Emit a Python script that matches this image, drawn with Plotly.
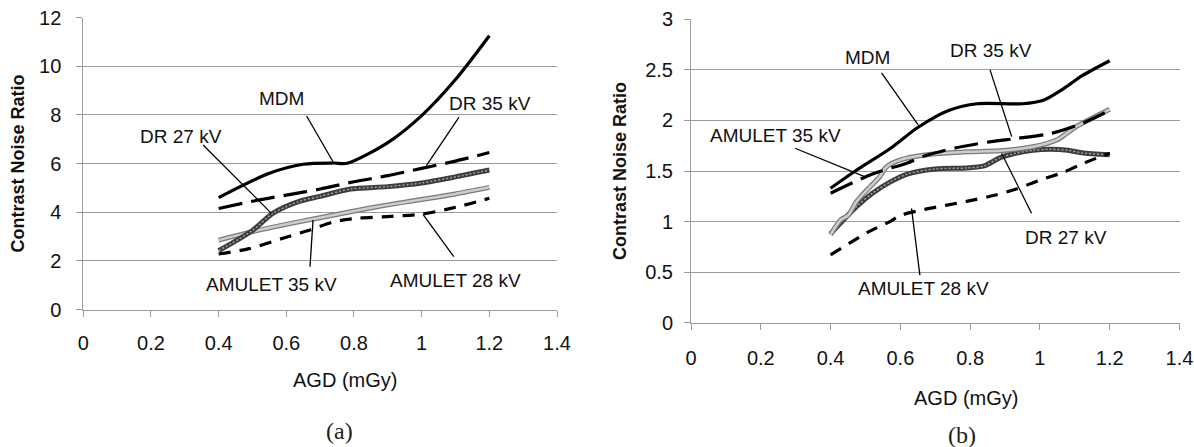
import plotly.graph_objects as go

# ---------------- data: panel (a) ----------------
a_mdm_x = [0.4, 0.55, 0.65, 0.74, 0.78, 0.9, 1.0, 1.1, 1.2]
a_mdm_y = [4.6, 5.6, 5.97, 6.02, 6.01, 6.86, 7.97, 9.45, 11.25]

a_dr35_x = [0.4, 0.5, 0.6, 0.7, 0.8, 0.9, 1.0, 1.1, 1.2]
a_dr35_y = [4.15, 4.45, 4.7, 4.95, 5.25, 5.5, 5.8, 6.1, 6.45]

a_dr27_x = [0.4, 0.5, 0.56, 0.64, 0.7, 0.79, 0.9, 1.0, 1.1, 1.2]
a_dr27_y = [2.42, 3.25, 3.95, 4.45, 4.65, 4.95, 5.05, 5.2, 5.45, 5.73]

a_am35_x = [0.4, 0.5, 0.6, 0.68, 0.79, 0.9, 0.99, 1.1, 1.2]
a_am35_y = [2.85, 3.2, 3.5, 3.72, 4.02, 4.3, 4.5, 4.75, 5.02]

a_am28_x = [0.4, 0.49, 0.59, 0.67, 0.74, 0.81, 0.9, 1.0, 1.1, 1.2]
a_am28_y = [2.28, 2.5, 2.93, 3.27, 3.6, 3.75, 3.82, 3.92, 4.2, 4.57]

# ---------------- data: panel (b) ----------------
b_mdm_x = [0.4, 0.475, 0.57, 0.65, 0.74, 0.82, 0.95, 1.01, 1.07, 1.12, 1.2]
b_mdm_y = [1.33, 1.51, 1.72, 1.93, 2.1, 2.165, 2.165, 2.2, 2.32, 2.44, 2.59]

b_dr35_x = [0.4, 0.52, 0.62, 0.67, 0.76, 0.86, 0.93, 1.03, 1.12, 1.2]
b_dr35_y = [1.28, 1.47, 1.58, 1.65, 1.73, 1.79, 1.82, 1.87, 1.97, 2.1]

b_grey_x = [0.4, 0.43, 0.45, 0.475, 0.49, 0.515, 0.54, 0.56, 0.6, 0.7, 0.79, 0.885, 0.98, 1.05, 1.1, 1.2]
b_grey_y = [0.87, 1.02, 1.06, 1.2, 1.26, 1.35, 1.44, 1.54, 1.61, 1.67, 1.69, 1.70, 1.74, 1.81, 1.93, 2.11]

b_dark_x = [0.4, 0.475, 0.52, 0.57, 0.62, 0.7, 0.79, 0.84, 0.885, 0.93, 0.98, 1.03, 1.08, 1.12, 1.2]
b_dark_y = [0.88, 1.15, 1.28, 1.39, 1.47, 1.52, 1.53, 1.55, 1.63, 1.675, 1.705, 1.715, 1.705, 1.68, 1.66]

b_am28_x = [0.4, 0.51, 0.57, 0.6, 0.67, 0.73, 0.79, 0.87, 0.93, 1.0, 1.07, 1.12, 1.2]
b_am28_y = [0.67, 0.9, 1.0, 1.06, 1.12, 1.16, 1.2, 1.26, 1.32, 1.41, 1.49, 1.57, 1.675]

# ---------------- labels (text, text x, text y, leader from x,y, leader to x,y) ----------------
a_labels = [
    ("MDM", 0.586, 8.68, 0.66, 7.95, 0.738, 6.07),
    ("DR 27 kV", 0.288, 7.10, 0.354, 6.76, 0.556, 3.95),
    ("DR 35 kV", 1.201, 8.47, 1.110, 7.90, 1.014, 5.91),
    ("AMULET 35 kV", 0.556, 1.04, 0.670, 1.76, 0.679, 3.68),
    ("AMULET 28 kV", 1.100, 1.18, 1.095, 2.17, 1.004, 3.91),
]
b_labels = [
    ("MDM", 0.507, 2.62, 0.546, 2.47, 0.651, 1.955),
    ("DR 35 kV", 0.859, 2.69, 0.857, 2.50, 0.919, 1.84),
    ("AMULET 35 kV", 0.241, 1.85, 0.298, 1.725, 0.501, 1.44),
    ("DR 27 kV", 1.076, 0.843, 0.976, 1.082, 0.890, 1.676),
    ("AMULET 28 kV", 0.666, 0.34, 0.656, 0.47, 0.632, 1.13),
]

x_ticks = [0, 0.2, 0.4, 0.6, 0.8, 1, 1.2, 1.4]
a_y_ticks = [0, 2, 4, 6, 8, 10, 12]
b_y_ticks = [0, 0.5, 1, 1.5, 2, 2.5, 3]
x_title = "AGD (mGy)"
y_title = "Contrast Noise Ratio"
captions = ["(a)", "(b)"]

W, H = 1194, 447
FONT = "Liberation Sans, Arial, sans-serif"
GRID = "#9c9c9c"

fig = go.Figure()


def add_line(x, y, xa, ya, color, width, dash="solid"):
    fig.add_trace(go.Scatter(
        x=x, y=y, xaxis=xa, yaxis=ya, mode="lines", showlegend=False,
        hoverinfo="skip",
        line=dict(color=color, width=width, dash=dash, shape="spline", smoothing=0.8),
    ))


def add_textured(x, y, xa, ya, base, top, wb, wt, dash_top):
    add_line(x, y, xa, ya, base, wb)
    add_line(x, y, xa, ya, top, wt, dash_top)


# panel (a)
add_textured(a_am35_x, a_am35_y, "x", "y", "#7a7a7a", "#cdcdcd", 5, 2.5, "solid")
add_textured(a_dr27_x, a_dr27_y, "x", "y", "#3c3c3c", "#a0a0a0", 5, 1.5, "2px,2px")
add_line(a_am28_x, a_am28_y, "x", "y", "#000000", 3.2, "12px,9px")
add_line(a_dr35_x, a_dr35_y, "x", "y", "#000000", 3.2, "24px,9px")
add_line(a_mdm_x, a_mdm_y, "x", "y", "#000000", 3.2)

# panel (b)
add_textured(b_dark_x, b_dark_y, "x2", "y2", "#3c3c3c", "#a0a0a0", 5, 1.5, "2px,2px")
add_textured(b_grey_x, b_grey_y, "x2", "y2", "#7a7a7a", "#cdcdcd", 5, 2.5, "solid")
add_line(b_am28_x, b_am28_y, "x2", "y2", "#000000", 3.2, "12px,9px")
add_line(b_dr35_x, b_dr35_y, "x2", "y2", "#000000", 3.2, "24px,9px")
add_line(b_mdm_x, b_mdm_y, "x2", "y2", "#000000", 3.2)

shapes = []
annotations = []
for labels, xr, yr in ((a_labels, "x", "y"), (b_labels, "x2", "y2")):
    for txt, tx, ty, x0, y0, x1, y1 in labels:
        annotations.append(dict(text=txt, x=tx, y=ty, xref=xr, yref=yr, showarrow=False,
                                font=dict(family=FONT, size=19, color="#111111"),
                                xanchor="center", yanchor="middle"))
        shapes.append(dict(type="line", xref=xr, yref=yr, x0=x0, y0=y0, x1=x1, y1=y1,
                           line=dict(color="#000000", width=1.3)))

# x-axis titles (offset to the right of the axis centre, as in the reference)
for cx, cy in ((345, 380), (966, 398)):
    annotations.append(dict(text=x_title, x=cx / W, y=1 - cy / H, xref="paper", yref="paper",
                            showarrow=False, font=dict(family=FONT, size=20, color="#111"),
                            xanchor="center", yanchor="middle"))
# panel captions
for txt, (cx, cy) in zip(captions, ((340, 431), (962, 435))):
    annotations.append(dict(text=txt, x=cx / W, y=1 - cy / H, xref="paper", yref="paper",
                            showarrow=False, font=dict(family="Liberation Serif, serif", size=24, color="#222"),
                            xanchor="center", yanchor="middle"))

xcommon = dict(range=[0, 1.4], tickvals=x_ticks, ticktext=[str(t) for t in x_ticks],
               showline=True, linecolor=GRID, linewidth=1, ticks="outside", ticklen=6, tickcolor=GRID,
               showgrid=False, zeroline=False, automargin=False, ticklabeloverflow="allow",
               tickfont=dict(family=FONT, size=20, color="#111"))
ycommon = dict(showline=True, linecolor=GRID, linewidth=1, ticks="outside", ticklen=6, tickcolor=GRID,
               showgrid=True, gridcolor=GRID, gridwidth=1, zeroline=False, automargin=False,
               tickfont=dict(family=FONT, size=20, color="#111"))

fig.update_layout(
    width=W, height=H, autosize=False,
    margin=dict(l=0, r=0, t=0, b=0),
    paper_bgcolor="white", plot_bgcolor="white",
    showlegend=False,
    xaxis=dict(xcommon, domain=[83.3 / W, 557 / W], anchor="y", ticklabelstandoff=9),
    yaxis=dict(ycommon, domain=[1 - 309.5 / H, 1 - 17.5 / H], anchor="x", range=[0, 12],
               tickvals=a_y_ticks, ticktext=[str(t) for t in a_y_ticks], ticklabelstandoff=11,
               title=dict(text="<b>" + y_title + "</b>", font=dict(family=FONT, size=18, color="#111"),
                          standoff=9)),
    xaxis2=dict(xcommon, domain=[691 / W, 1179.5 / W], anchor="y2", ticklabelstandoff=11),
    yaxis2=dict(ycommon, domain=[1 - 322.7 / H, 1 - 19.3 / H], anchor="x2", range=[0, 3],
                tickvals=b_y_ticks, ticktext=[str(t) for t in b_y_ticks], ticklabelstandoff=7,
                title=dict(text="<b>" + y_title + "</b>", font=dict(family=FONT, size=18, color="#111"),
                           standoff=13)),
    shapes=shapes,
    annotations=annotations,
)

fig.write_html("out.html", config={"displayModeBar": False},
               post_script="document.body.style.margin='0px';")
